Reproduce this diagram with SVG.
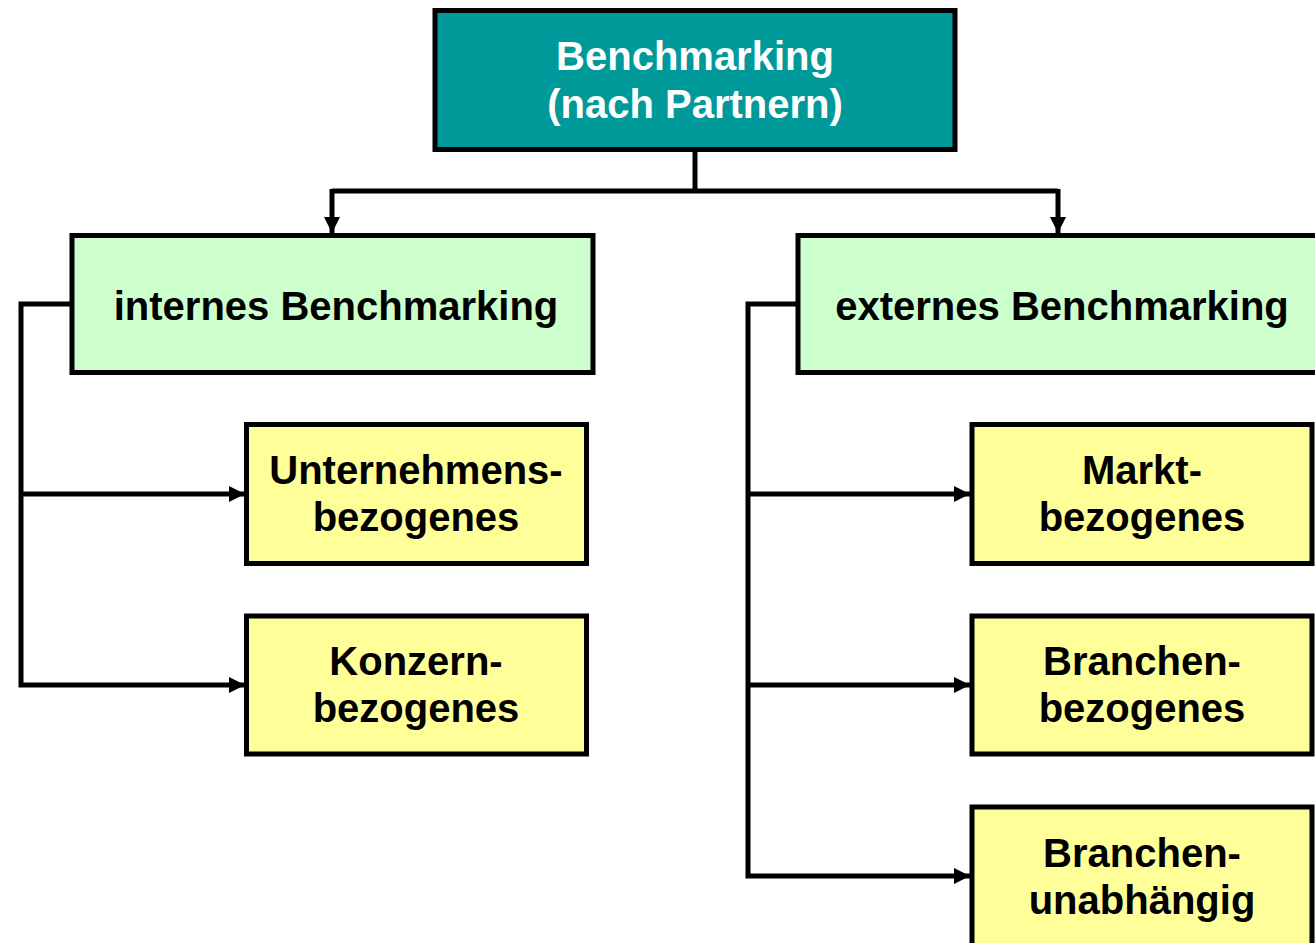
<svg xmlns="http://www.w3.org/2000/svg" width="1315" height="943" viewBox="0 0 1315 943">
<style>
.box{stroke:#000;stroke-width:5}
.root{fill:#009999}
.l1{fill:#CCFFCC}
.l2{fill:#FFFF99}
text{font-family:"Liberation Sans",Arial,sans-serif;font-weight:bold;font-size:40px;text-anchor:middle;fill:#000}
.w{fill:#fff}
.c{fill:none;stroke:#000;stroke-width:5}
</style>
<defs>
<marker id="ah" viewBox="0 0 10 10" refX="10" refY="5" markerWidth="3.4" markerHeight="3.2" orient="auto" markerUnits="strokeWidth">
<path d="M0,0 L10,5 L0,10 z" fill="#000"/>
</marker>
</defs>
<rect width="1315" height="943" fill="#fff"/>
<g id="connectors">
<path class="c" d="M695,150 V191"/>
<path class="c" d="M332,191 H1058"/>
<path class="c" d="M332,189 V233" marker-end="url(#ah)"/>
<path class="c" d="M1058,189 V233" marker-end="url(#ah)"/>
<path class="c" d="M72,304 H21 V685 H245" marker-end="url(#ah)"/>
<path class="c" d="M21,494 H245" marker-end="url(#ah)"/>
<path class="c" d="M798,304 H748 V876 H970" marker-end="url(#ah)"/>
<path class="c" d="M748,494 H970" marker-end="url(#ah)"/>
<path class="c" d="M748,685 H970" marker-end="url(#ah)"/>
</g>
<g id="root">
<rect class="box root" x="435" y="10.5" width="520" height="139"/>
<text class="w" x="695" y="70">Benchmarking</text>
<text class="w" x="695" y="118">(nach Partnern)</text>
</g>
<g id="internes">
<rect class="box l1" x="72" y="235.5" width="521" height="137"/>
<text x="336" y="320">internes Benchmarking</text>
</g>
<g id="externes">
<rect class="box l1" x="798" y="235.5" width="520" height="137"/>
<text x="1062" y="320">externes Benchmarking</text>
</g>
<g id="unternehmens">
<rect class="box l2" x="246.5" y="424.5" width="340" height="139"/>
<text x="416" y="484">Unternehmens-</text>
<text x="416" y="531">bezogenes</text>
</g>
<g id="konzern">
<rect class="box l2" x="246.5" y="616" width="340" height="138"/>
<text x="416" y="675">Konzern-</text>
<text x="416" y="722">bezogenes</text>
</g>
<g id="markt">
<rect class="box l2" x="972" y="424.5" width="340" height="139"/>
<text x="1142" y="484">Markt-</text>
<text x="1142" y="531">bezogenes</text>
</g>
<g id="branchen">
<rect class="box l2" x="972" y="616" width="340" height="138"/>
<text x="1142" y="675">Branchen-</text>
<text x="1142" y="722">bezogenes</text>
</g>
<g id="unabhaengig">
<rect class="box l2" x="972" y="807" width="340" height="140"/>
<text x="1142" y="867">Branchen-</text>
<text x="1142" y="914">unabhängig</text>
</g>
</svg>
